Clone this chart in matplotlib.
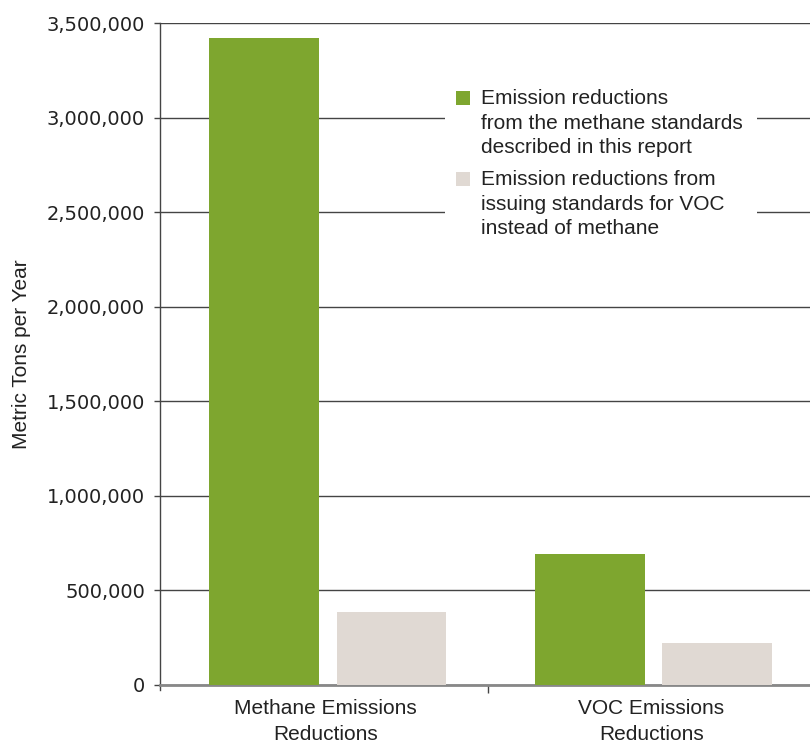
import numpy as np
import matplotlib.pyplot as plt
from matplotlib.patches import Rectangle
from matplotlib.ticker import FuncFormatter

# Emission reductions by pollutant, metric tons per year
categories = ["Methane Emissions\nReductions", "VOC Emissions\nReductions"]
methane_standards = [3420000, 695000]
voc_standards = [388000, 222000]
series_labels = [
    "Emission reductions\nfrom the methane standards\ndescribed in this report",
    "Emission reductions from\nissuing standards for VOC\ninstead of methane",
]

green = "#7ea62f"
beige = "#e0d9d3"
series_colors = [green, beige]
sans = ["Liberation Sans", "DejaVu Sans"]

W, H = 810, 744
fig = plt.figure(figsize=(W / 100, H / 100), dpi=100)
ax = fig.add_axes([160 / W, 1 - 685 / H, 650 / W, 662 / H])

x = np.arange(len(categories))
w = 0.337
ax.bar(x - 0.195, methane_standards, w, color=green, zorder=3)
ax.bar(x + 0.195, voc_standards, w, color=beige, zorder=3)

ax.set_xlim(-0.515, 1.479)
ax.set_ylim(0, 3500000)
ax.set_yticks(np.arange(0, 3500001, 500000))
ax.yaxis.set_major_formatter(FuncFormatter(lambda v, p: f"{int(v):,}"))
ax.yaxis.grid(True, color="#444444", linewidth=1.0, zorder=0)
ax.set_axisbelow(True)

for s in ["top", "right"]:
    ax.spines[s].set_visible(False)
ax.spines["left"].set_color("#444444")
ax.spines["left"].set_linewidth(1.0)
ax.spines["left"].set_bounds(-25000, 3500000)
ax.spines["bottom"].set_color("#888888")
ax.spines["bottom"].set_linewidth(2.0)

ax.tick_params(axis="y", length=4.5, width=1.0, color="#444444", pad=6.3,
               labelsize=14, labelcolor="#222222")
# single tick between the two categories
ax.set_xticks([0.49])
ax.set_xticklabels([""])
ax.tick_params(axis="x", length=6, width=1.0, color="#444444")
for xi, lab in zip(x, categories):
    ax.text(xi - 0.008, -0.021, lab, transform=ax.get_xaxis_transform(),
            ha="center", va="top", fontsize=15, family=sans,
            color="#222222", linespacing=1.5)

ax.set_ylabel("Metric Tons per Year", fontsize=15, family=sans,
              color="#222222")
ax.yaxis.set_label_coords(-0.198, 0.5)

# legend box sits over the gridlines
fig.add_artist(Rectangle((445 / W, 1 - 250 / H), 312 / W, 170 / H,
                         transform=fig.transFigure, facecolor="white",
                         edgecolor="none", zorder=2))
for top, color, label in zip([91, 172], series_colors, series_labels):
    fig.add_artist(Rectangle((456 / W, 1 - (top + 14) / H), 14 / W, 14 / H,
                             transform=fig.transFigure, facecolor=color,
                             edgecolor="none", zorder=3))
    fig.text(481 / W, 1 - (top - 2) / H, label, ha="left", va="top",
             fontsize=15, family=sans, color="#222222", linespacing=1.38,
             zorder=4)

fig.savefig("out.png", dpi=100)
